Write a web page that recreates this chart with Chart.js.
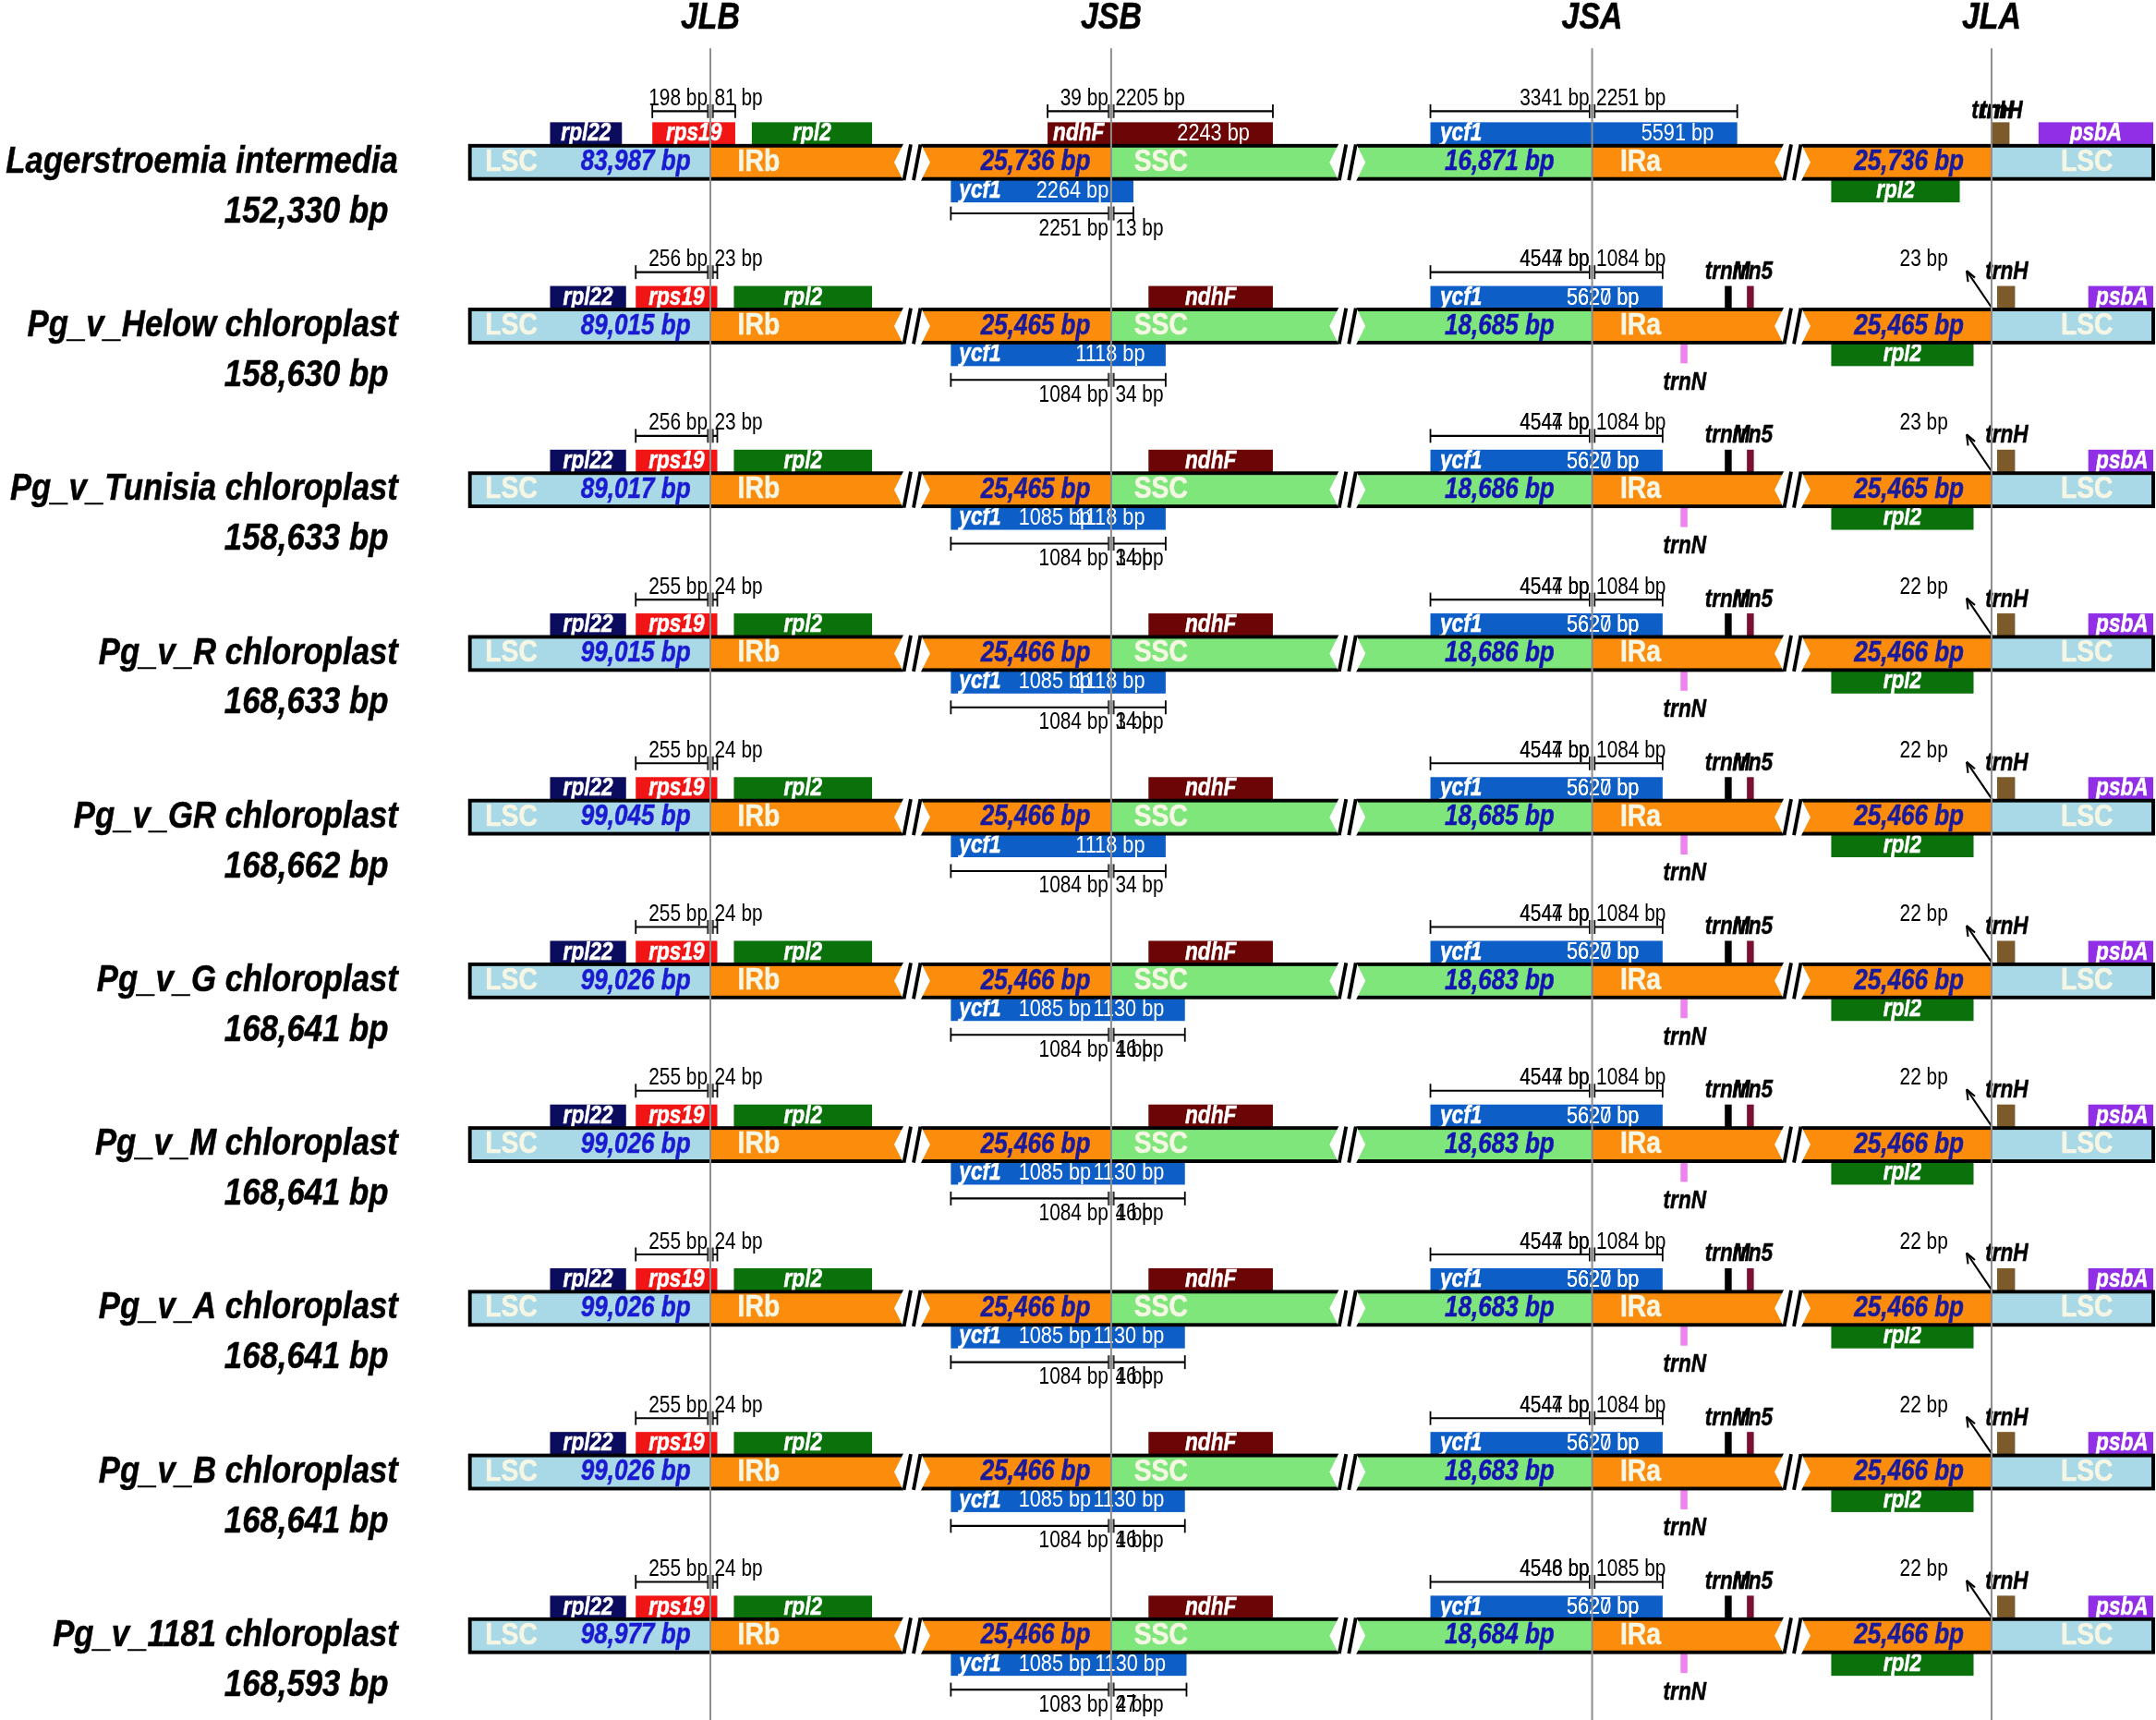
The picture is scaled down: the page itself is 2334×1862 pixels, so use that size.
<!DOCTYPE html>
<html>
<head>
<meta charset="utf-8">
<script src="https://cdn.jsdelivr.net/npm/chart.js@4.4.1/dist/chart.umd.min.js"></script>
<style>
  html, body { margin: 0; padding: 0; background: #fff; }
  #wrap { width: 2334px; height: 1862px; }
</style>
</head>
<body>
<div id="wrap"><canvas id="irChart" width="2334" height="1862"></canvas></div>
<script>
// junction names
const junctions = ['JLB', 'JSB', 'JSA', 'JLA'];

// one entry per genome, top to bottom
const species = ['Lagerstroemia intermedia', 'Pg_v_Helow chloroplast', 'Pg_v_Tunisia chloroplast',
  'Pg_v_R chloroplast', 'Pg_v_GR chloroplast', 'Pg_v_G chloroplast', 'Pg_v_M chloroplast',
  'Pg_v_A chloroplast', 'Pg_v_B chloroplast', 'Pg_v_1181 chloroplast'];
const genomeSize = [152330, 158630, 158633, 168633, 168662, 168641, 168641, 168641, 168641, 168593];
const lscLength = [83987, 89015, 89017, 99015, 99045, 99026, 99026, 99026, 99026, 98977];
const irLength = [25736, 25465, 25465, 25466, 25466, 25466, 25466, 25466, 25466, 25466];
const sscLength = [16871, 18685, 18686, 18686, 18685, 18683, 18683, 18683, 18683, 18684];

// rps19 across JLB
const jlbLeft = [198, 256, 256, 255, 255, 255, 255, 255, 255, 255];
const jlbRight = [81, 23, 23, 24, 24, 24, 24, 24, 24, 24];
// ycf1 fragment across JSB
const ycf1FragLen = [2264, 1118, 1118, 1118, 1118, 1130, 1130, 1130, 1130, 1130];
const ycf1FragAlt = [null, null, 1085, 1085, null, 1085, 1085, 1085, 1085, 1085];
const jsbIn = [2251, 1084, 1084, 1084, 1084, 1084, 1084, 1084, 1084, 1083];
const jsbOut = [13, 34, 34, 34, 34, 46, 46, 46, 46, 47];
const jsbOutAlt = [null, null, 1, 1, null, 1, 1, 1, 1, 2];
// ycf1 across JSA
const ycf1Len = [5591, 5620, 5620, 5620, 5620, 5620, 5620, 5620, 5620, 5620];
const ycf1LenAlt = [null, 5627, 5627, 5627, 5627, 5627, 5627, 5627, 5627, 5627];
const jsaLeft = [3341, 4547, 4547, 4547, 4547, 4547, 4547, 4547, 4547, 4548];
const jsaLeftAlt = [null, 4544, 4544, 4544, 4544, 4544, 4544, 4544, 4544, 4546];
const jsaRight = [2251, 1084, 1084, 1084, 1084, 1084, 1084, 1084, 1084, 1085];
// ndhF across JSB (reference only)
const ndhFLen = [2243];
const ndhFLeft = [39];
const ndhFRight = [2205];
// trnH distance from JLA
const trnHGap = [null, 23, 23, 22, 22, 22, 22, 22, 22, 22];

// drawing layout (diagram units)
const junctionX = [514, 804, 1152, 1441];
const barLeft = 340, barRight = 1558;
const breakX = [660, 975, 1297];
const rowCenter = i => 117.5 + i * 118.5;

const colors = {
  LSC: '#a9d8e6', IR: '#fb8c0c', SSC: '#7ee67a',
  rpl22: '#0c0c5e', rps19: '#f21515', rpl2: '#0b710b', ndhF: '#6c0606', ycf1: '#0e5ec8',
  trnH: '#7c5a2a', psbA: '#902fe6', trnM: '#000000', rrn5: '#7c1030', trnN: '#ee82ee'
};

const geneRef = {
  above: [
    { name: 'rpl22', x1: 398, x2: 450 }, { name: 'rps19', x1: 472, x2: 532 },
    { name: 'rpl2', x1: 544, x2: 631 }, { name: 'psbA', x1: 1475, x2: 1558 },
    { name: 'trnH', x1: 1441, x2: 1454, noLabel: true }
  ],
  below: [{ name: 'rpl2', x1: 1325, x2: 1418 }]
};
const genePg = {
  above: [
    { name: 'rpl22', x1: 398, x2: 453 }, { name: 'rps19', x1: 460, x2: 519 },
    { name: 'rpl2', x1: 531, x2: 631 }, { name: 'ndhF', x1: 831, x2: 921 },
    { name: 'psbA', x1: 1511, x2: 1558 },
    { name: 'trnM', x1: 1248, x2: 1253, noLabel: true }, { name: 'rrn5', x1: 1264, x2: 1269, noLabel: true },
    { name: 'trnH', x1: 1445, x2: 1458, noLabel: true }
  ],
  below: [{ name: 'rpl2', x1: 1325, x2: 1428 }]
};

const fmt = n => n.toLocaleString('en-US');

const irscope = {
  id: 'irscope',
  beforeDatasetsDraw(chart) {
    const { ctx, scales: { x, y } } = chart;
    const X = v => x.getPixelForValue(v);
    const Y = v => y.getPixelForValue(v);
    const k = X(1) - X(0);
    const font = 'Liberation Sans, Arial, Helvetica, sans-serif';

    const text = (s, tx, ty, o) => {
      const bold = o.bold !== false;
      ctx.save();
      ctx.font = `${o.italic === false ? 'normal' : 'italic'} ${bold ? 'bold' : 'normal'} ${o.size * k}px ${font}`;
      ctx.fillStyle = o.color || '#000';
      ctx.strokeStyle = o.color || '#000';
      ctx.textBaseline = 'middle';
      ctx.textAlign = 'left';
      const sq = o.squeeze || 0.84;
      const w = ctx.measureText(s).width * sq;
      let px = X(tx);
      if (o.align === 'right') px -= w; else if (o.align !== 'left') px -= w / 2;
      ctx.translate(px, Y(ty));
      ctx.scale(sq, 1);
      ctx.fillText(s, 0, 0);
      if (bold) { ctx.lineWidth = 0.35 * k; ctx.strokeText(s, 0, 0); }
      ctx.restore();
    };
    const rect = (x1, y1, x2, y2, c) => {
      ctx.fillStyle = c;
      ctx.fillRect(X(x1), Y(y1), X(x2) - X(x1), Y(y2) - Y(y1));
    };
    const line = (x1, y1, x2, y2, c, w) => {
      ctx.strokeStyle = c; ctx.lineWidth = w * k;
      ctx.beginPath(); ctx.moveTo(X(x1), Y(y1)); ctx.lineTo(X(x2), Y(y2)); ctx.stroke();
    };
    const geneLabel = (s, tx, ty, align) => text(s, tx, ty, { size: 18, color: '#fff', align });
    const lenLabel = (s, tx, ty, align) => text(s, tx, ty, { size: 17.5, squeeze: 0.83, color: '#fff', bold: false, italic: false, align });
    const bracket = (x1, x2, xj, by, left, right, above, leftAlt, rightAlt) => {
      line(x1, by, x2, by, '#000', 1.4);
      line(x1, by - 5, x1, by + 5, '#000', 1.2);
      line(x2, by - 5, x2, by + 5, '#000', 1.2);
      rect(xj - 2, by - 5, xj + 2, by + 5, '#999');
      line(xj - 2, by - 5, xj - 2, by + 5, '#000', 0.8);
      line(xj + 2, by - 5, xj + 2, by + 5, '#000', 0.8);
      const ly = above ? by - 9 : by + 11;
      const o = { size: 17, squeeze: 0.82, bold: false, italic: false };
      text(left + ' bp', xj - 2, ly, { ...o, align: 'right' });
      if (leftAlt != null) text(leftAlt + ' bp', xj - 2, ly, { ...o, align: 'right' });
      text(right + ' bp', xj + 3, ly, { ...o, align: 'left' });
      if (rightAlt != null) text(rightAlt + ' bp', xj + 3, ly, { ...o, align: 'left' });
    };
    const brk = (bx, yc) => {
      ctx.fillStyle = '#fff';
      ctx.beginPath();
      ctx.moveTo(X(bx - 13), Y(yc)); ctx.lineTo(X(bx - 6), Y(yc - 14)); ctx.lineTo(X(bx + 6), Y(yc - 14));
      ctx.lineTo(X(bx + 13), Y(yc)); ctx.lineTo(X(bx + 6), Y(yc + 14)); ctx.lineTo(X(bx - 6), Y(yc + 14));
      ctx.closePath(); ctx.fill();
      line(bx - 6, yc + 13, bx - 1, yc - 13, '#000', 2.6);
      line(bx + 1, yc + 13, bx + 6, yc - 13, '#000', 2.6);
    };

    // junction headers
    junctions.forEach((j, n) => text(j, junctionX[n], 13, { size: 27 }));

    species.forEach((name, i) => {
      const yc = rowCenter(i);
      const ref = i === 0;
      const lay = ref ? geneRef : genePg;

      text(name, 288, yc, { size: 27, align: 'right', squeeze: 0.86 });
      text(fmt(genomeSize[i]) + ' bp', 281, yc + 36, { size: 27, align: 'right', squeeze: 0.86 });

      // genes above the bar
      lay.above.forEach(g => {
        rect(g.x1, yc - 29, g.x2, yc - 12, colors[g.name]);
        if (!g.noLabel) geneLabel(g.name, (g.x1 + g.x2) / 2 + (g.name === 'psbA' && !ref ? 1 : 0), yc - 20.5);
      });
      if (ref) {
        rect(758, yc - 29, 921, yc - 12, colors.ndhF);
        geneLabel('ndhF', 762, yc - 20.5, 'left');
        lenLabel(ndhFLen[0] + ' bp', 878, yc - 20.5);
      }
      // ycf1 across JSA
      const ycfEnd = ref ? 1257 : 1203;
      rect(1035, yc - 29, ycfEnd, yc - 12, colors.ycf1);
      geneLabel('ycf1', 1042, yc - 20.5, 'left');
      lenLabel(ycf1Len[i] + ' bp', ref ? 1240 : 1186, yc - 20.5, 'right');
      if (ycf1LenAlt[i] != null) lenLabel(ycf1LenAlt[i] + ' bp', 1186, yc - 20.5, 'right');

      // genes below the bar
      lay.below.forEach(g => {
        rect(g.x1, yc + 12, g.x2, yc + 29, colors[g.name]);
        geneLabel(g.name, (g.x1 + g.x2) / 2, yc + 20.5);
      });
      const fragEnd = 804 + jsbOut[i] * 1.16 + (ref ? 1 : 0);
      rect(688, yc + 12, fragEnd, yc + 29, colors.ycf1);
      geneLabel('ycf1', 694, yc + 20.5, 'left');
      if (ref) lenLabel(ycf1FragLen[i] + ' bp', 776, yc + 20.5);
      else {
        if (ycf1FragAlt[i] != null) lenLabel(ycf1FragAlt[i] + ' bp', 737, yc + 20.5, 'left');
        lenLabel(ycf1FragLen[i] + ' bp', fragEnd - 15, yc + 20.5, 'right');
      }
      if (!ref) {
        rect(1216, yc + 13, 1221, yc + 27, colors.trnN);
        text('trnN', 1219, yc + 41, { size: 18 });
      }

      // main bar
      const bt = yc - 12, bb = yc + 12;
      rect(barLeft, bt, junctionX[0], bb, colors.LSC);
      rect(junctionX[0], bt, junctionX[1], bb, colors.IR);
      rect(junctionX[1], bt, junctionX[2], bb, colors.SSC);
      rect(junctionX[2], bt, junctionX[3], bb, colors.IR);
      rect(junctionX[3], bt, barRight, bb, colors.LSC);
      ctx.strokeStyle = '#000'; ctx.lineWidth = 2.6 * k;
      ctx.strokeRect(X(barLeft), Y(bt), X(barRight) - X(barLeft), Y(bb) - Y(bt));
      breakX.forEach(bx => brk(bx, yc));

      const reg = { size: 22, italic: false, color: '#f6f6e4', squeeze: 0.86 };
      const num = { size: 21, squeeze: 0.83 };
      text('LSC', 370, yc, reg);
      text(fmt(lscLength[i]) + ' bp', 460, yc, { ...num, color: '#1a1ad2' });
      text('IRb', 549, yc, reg);
      text(fmt(irLength[i]) + ' bp', 789, yc, { ...num, color: '#1a1a9c', align: 'right' });
      text('SSC', 840, yc, reg);
      text(fmt(sscLength[i]) + ' bp', 1085, yc, { ...num, color: '#1414b4' });
      text('IRa', 1187, yc, reg);
      text(fmt(irLength[i]) + ' bp', 1421, yc, { ...num, color: '#1a1a9c', align: 'right' });
      text('LSC', 1510, yc, reg);

      // junction brackets
      if (ref) {
        bracket(472, 532, 514, yc - 37, jlbLeft[i], jlbRight[i], true);
        bracket(758, 921, 804, yc - 37, ndhFLeft[0], ndhFRight[0], true);
        bracket(1035, 1257, 1152, yc - 37, jsaLeft[i], jsaRight[i], true);
        bracket(688, fragEnd, 804, yc + 37, jsbIn[i], jsbOut[i], false);
        text('trnH', 1442, yc - 37, { size: 18 });
        text('trnH', 1448, yc - 37, { size: 18 });
      } else {
        bracket(460, 519, 514, yc - 39, jlbLeft[i], jlbRight[i], true);
        bracket(1035, 1203, 1152, yc - 39, jsaLeft[i], jsaRight[i], true, jsaLeftAlt[i]);
        bracket(688, fragEnd, 804, yc + 39, jsbIn[i], jsbOut[i], false, null, jsbOutAlt[i]);
        text('trnM', 1250, yc - 39, { size: 18 });
        text('rrn5', 1268, yc - 39, { size: 18 });
        text('trnH', 1452, yc - 39, { size: 18 });
        text(trnHGap[i] + ' bp', 1392, yc - 48, { size: 17, squeeze: 0.82, bold: false, italic: false });
        // arrow from JLA to trnH note
        line(1442, yc - 12, 1423, yc - 40, '#000', 1.4);
        line(1423, yc - 40, 1424, yc - 32, '#000', 1.4);
        line(1423, yc - 40, 1429, yc - 35, '#000', 1.4);
      }
    });
  }
};

const junctionSets = junctionX.map(jx => ({
  type: 'line',
  data: [{ x: jx, y: 35 }, { x: jx, y: 1245 }],
  borderColor: '#8e8e8e',
  borderWidth: 2,
  pointRadius: 0,
  showLine: true
}));

new Chart(document.getElementById('irChart'), {
  type: 'scatter',
  data: { datasets: junctionSets },
  options: {
    responsive: false,
    devicePixelRatio: 1,
    animation: false,
    layout: { padding: 0 },
    plugins: { legend: { display: false }, tooltip: { enabled: false } },
    scales: {
      x: { type: 'linear', min: 0, max: 1560, display: false },
      y: { type: 'linear', min: 0, max: 1245, reverse: true, display: false }
    }
  },
  plugins: [irscope]
});
</script>
</body>
</html>
